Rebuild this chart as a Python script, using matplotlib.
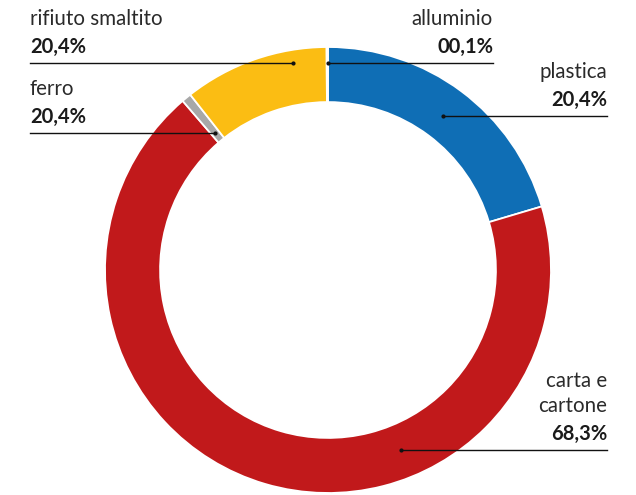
import matplotlib.pyplot as plt

# slices, clockwise from 12 o'clock
categories = ["plastica", "carta e\ncartone", "ferro", "rifiuto smaltito", "alluminio"]
values = [20.4, 68.3, 0.7, 10.5, 0.1]
colors = ["#0f6eb5", "#c1191b", "#a8a8a8", "#fbbd13", "#f2f2f2"]
# labels as printed on the chart
pct_labels = ["20,4%", "68,3%", "20,4%", "20,4%", "00,1%"]

W, H = 636, 495
cx, cy, R = 328, 270, 223

plt.rcParams['font.family'] = ['Lato', 'DejaVu Sans']
fig = plt.figure(figsize=(W / 100, H / 100), dpi=100)

ax = fig.add_axes([(cx - R) / W, (H - cy - R) / H, 2 * R / W, 2 * R / H])
ax.pie(values, colors=colors, startangle=90, counterclock=False, radius=1,
       wedgeprops=dict(width=0.247, edgecolor="white", linewidth=1.3))
ax.set_xlim(-1, 1)
ax.set_ylim(-1, 1)
ax.axis("off")

# overlay in pixel coordinates for labels and leader lines
ov = fig.add_axes([0, 0, 1, 1])
ov.set_xlim(0, W)
ov.set_ylim(H, 0)
ov.axis("off")

# (text x, align, line y, line x0, line x1 (dot end))
layout = {
    "plastica": (607, "right", 116, 607, 443),
    "carta e\ncartone": (607, "right", 450, 607, 401),
    "ferro": (30, "left", 133, 30, 215),
    "rifiuto smaltito": (30, "left", 63, 30, 293),
    "alluminio": (493, "right", 63, 493, 328),
}

for cat, pct in zip(categories, pct_labels):
    tx, ha, ly, x0, x1 = layout[cat]
    ov.plot([x0, x1], [ly, ly], color="#111111", lw=1.0)
    ov.plot([x1], [ly], "o", color="#111111", ms=2)
    ov.text(tx, ly - 6, pct, ha=ha, va="bottom", fontsize=14.5,
            fontweight="bold", color="#1a1a1a")
    ov.text(tx, ly - 34, cat, ha=ha, va="bottom", fontsize=14.8,
            color="#2a2a2a", linespacing=1.3)

fig.savefig("out.png", dpi=100)
